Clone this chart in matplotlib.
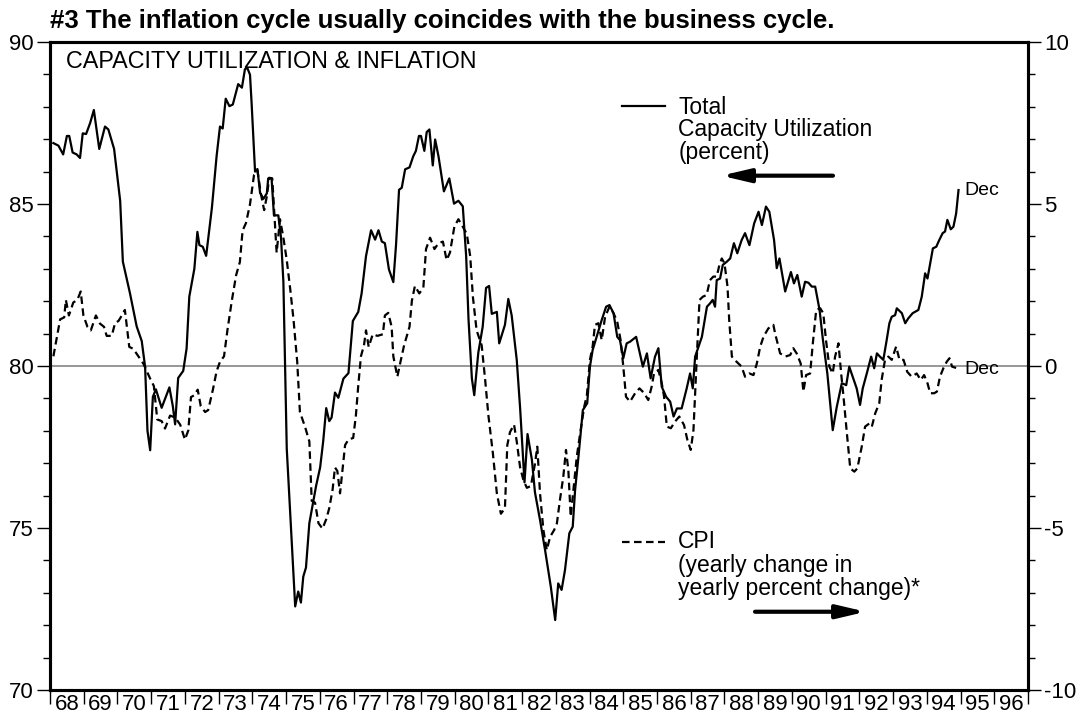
import matplotlib
matplotlib.use('Agg')
import matplotlib.pyplot as plt
from matplotlib.ticker import MultipleLocator, FixedLocator, FixedFormatter

plt.rcParams['font.family'] = ['Liberation Sans', 'DejaVu Sans']
plt.rcParams['axes.unicode_minus'] = False

# Total capacity utilization (percent), left scale
cu_years = [
    1968.10, 1968.25, 1968.39, 1968.50, 1968.57, 1968.67, 1968.79, 1968.89, 1968.97,
    1969.07, 1969.19, 1969.30, 1969.46, 1969.63, 1969.73, 1969.90, 1969.98,
    1970.08, 1970.16, 1970.37, 1970.57, 1970.72, 1970.82, 1970.89, 1970.97,
    1971.05, 1971.14, 1971.31, 1971.54, 1971.64, 1971.71, 1971.80, 1971.95,
    1972.05, 1972.13, 1972.28, 1972.37, 1972.43, 1972.53, 1972.63, 1972.80, 1972.94,
    1973.04, 1973.12, 1973.21, 1973.32, 1973.42, 1973.58, 1973.69, 1973.78, 1973.85, 1973.93, 1973.98,
    1974.08, 1974.15, 1974.23, 1974.33, 1974.43, 1974.47, 1974.57, 1974.64, 1974.77, 1974.85, 1974.92,
    1975.02, 1975.12, 1975.27, 1975.36, 1975.44, 1975.51, 1975.59, 1975.69, 1975.79, 1975.89,
    1976.01, 1976.10, 1976.19, 1976.28, 1976.35, 1976.45, 1976.55, 1976.70, 1976.85, 1976.90, 1976.98,
    1977.14, 1977.24, 1977.37, 1977.52, 1977.64, 1977.74, 1977.84, 1977.93,
    1978.05, 1978.18, 1978.26, 1978.35, 1978.43, 1978.53, 1978.66, 1978.77, 1978.85, 1978.94,
    1979.00, 1979.10, 1979.17, 1979.25, 1979.35, 1979.42, 1979.52, 1979.68, 1979.84, 1979.98,
    1980.11, 1980.24, 1980.34, 1980.41, 1980.51, 1980.58, 1980.70, 1980.83, 1980.93,
    1981.02, 1981.10, 1981.25, 1981.32, 1981.49, 1981.59, 1981.69, 1981.84, 1981.94,
    1982.07, 1982.16, 1982.29, 1982.38, 1982.53, 1982.68, 1982.85, 1982.98,
    1983.07, 1983.17, 1983.27, 1983.40, 1983.50, 1983.57, 1983.67, 1983.80, 1983.93,
    1984.01, 1984.09, 1984.21, 1984.36, 1984.49, 1984.59, 1984.71, 1984.82, 1984.90,
    1985.00, 1985.10, 1985.20, 1985.38, 1985.58, 1985.70, 1985.81, 1985.94,
    1986.04, 1986.14, 1986.27, 1986.39, 1986.49, 1986.59, 1986.73, 1986.88, 1986.98,
    1987.06, 1987.13, 1987.23, 1987.33, 1987.48, 1987.57, 1987.65, 1987.72, 1987.77, 1987.87, 1987.95,
    1988.07, 1988.17, 1988.28, 1988.38, 1988.51, 1988.61, 1988.74, 1988.88,
    1989.01, 1989.11, 1989.23, 1989.33, 1989.47, 1989.55, 1989.63, 1989.80, 1989.97,
    1990.06, 1990.16, 1990.29, 1990.39, 1990.49, 1990.59, 1990.69, 1990.82, 1990.92,
    1991.05, 1991.21, 1991.33, 1991.48, 1991.61, 1991.70, 1991.82, 1991.92,
    1992.02, 1992.10, 1992.22, 1992.35, 1992.44, 1992.52, 1992.61, 1992.71, 1992.81, 1992.89, 1992.96,
    1993.06, 1993.11, 1993.26, 1993.36, 1993.45, 1993.58, 1993.75, 1993.85, 1993.95,
    1994.02, 1994.18, 1994.28, 1994.37, 1994.47, 1994.54, 1994.61, 1994.71, 1994.79, 1994.87, 1994.94,
]
cu_values = [
    86.88, 86.80, 86.53, 87.10, 87.10, 86.59, 86.53, 86.42, 87.18,
    87.16, 87.50, 87.90, 86.70, 87.39, 87.30, 86.70, 86.00,
    85.10, 83.22, 82.25, 81.22, 80.77, 79.97, 78.00, 77.40,
    79.05, 79.28, 78.71, 79.34, 78.77, 78.20, 79.63, 79.85,
    80.54, 82.14, 83.00, 84.14, 83.73, 83.68, 83.40, 84.88, 86.48,
    87.39, 87.33, 88.25, 88.02, 88.07, 88.70, 88.59, 89.16, 89.20, 88.99, 88.07,
    86.00, 86.08, 85.34, 85.16, 85.33, 85.79, 85.79, 84.65, 84.65, 83.96, 82.60,
    77.45, 75.50, 72.58, 73.04, 72.70, 73.50, 73.78, 75.15, 75.73, 76.30,
    76.87, 77.67, 78.70, 78.30, 78.41, 79.18, 79.02, 79.61, 79.78, 80.41, 81.39,
    81.67, 82.24, 83.39, 84.19, 83.90, 84.19, 83.84, 83.79,
    82.98, 82.59, 83.73, 85.44, 85.50, 86.07, 86.13, 86.47, 86.64, 87.10,
    87.10, 86.64, 87.22, 87.30, 86.19, 86.99, 86.47, 85.39, 85.79, 85.01,
    85.10, 84.93, 83.39, 81.44, 79.61, 79.10, 80.41, 81.21, 82.41,
    82.47, 81.61, 81.67, 80.70, 81.27, 82.07, 81.56, 80.19, 78.70,
    76.41, 77.90, 77.10, 76.10, 75.25, 74.32, 73.19, 72.16,
    73.29, 73.09, 73.70, 74.84, 75.04, 76.17, 77.20, 78.64, 78.85,
    79.98, 80.49, 80.90, 81.42, 81.83, 81.88, 81.63, 80.90, 80.80,
    80.24, 80.70, 80.75, 80.90, 79.98, 80.39, 79.62, 80.29,
    80.55, 79.36, 79.05, 78.90, 78.44, 78.69, 78.69, 79.31, 79.77,
    79.31, 80.29, 80.60, 80.90, 81.83, 81.93, 82.04, 81.83, 82.65, 82.70, 83.12,
    83.22, 83.32, 83.79, 83.48, 83.89, 84.10, 83.73, 84.40,
    84.76, 84.35, 84.92, 84.76, 83.89, 83.02, 83.32, 82.30, 82.90,
    82.55, 82.81, 82.14, 82.60, 82.57, 82.45, 82.45, 81.73, 80.80,
    79.77, 78.02, 78.74, 79.47, 79.41, 79.98, 79.62, 79.31,
    78.80, 79.31, 79.77, 80.29, 79.93, 80.39, 80.29, 80.19, 80.80, 81.32, 81.52,
    81.57, 81.78, 81.63, 81.32, 81.47, 81.63, 81.73, 82.14, 82.86,
    82.70, 83.63, 83.68, 83.89, 84.10, 84.15, 84.51, 84.22, 84.30, 84.71, 85.43,
]

# CPI, yearly change in yearly percent change, right scale
cpi_years = [
    1968.10, 1968.18, 1968.30, 1968.42, 1968.47, 1968.56, 1968.69, 1968.81, 1968.91, 1968.99,
    1969.11, 1969.21, 1969.36, 1969.48, 1969.60, 1969.68, 1969.83, 1969.93,
    1970.03, 1970.13, 1970.22, 1970.35, 1970.47, 1970.62, 1970.77, 1970.97,
    1971.08, 1971.18, 1971.31, 1971.41, 1971.56, 1971.71, 1971.86,
    1972.00, 1972.10, 1972.18, 1972.28, 1972.38, 1972.47, 1972.60, 1972.69, 1972.83, 1972.94,
    1973.04, 1973.16, 1973.26, 1973.39, 1973.52, 1973.63, 1973.71, 1973.81, 1973.93,
    1974.05, 1974.15, 1974.25, 1974.35, 1974.43, 1974.50, 1974.59, 1974.67, 1974.72, 1974.82, 1974.92,
    1975.02, 1975.12, 1975.22, 1975.33, 1975.41, 1975.56, 1975.69, 1975.76, 1975.86, 1975.96,
    1976.08, 1976.19, 1976.28, 1976.38, 1976.45, 1976.52, 1976.60, 1976.68, 1976.75, 1976.85, 1976.99,
    1977.07, 1977.14, 1977.22, 1977.31, 1977.37, 1977.45, 1977.57, 1977.71, 1977.87, 1977.93,
    1978.03, 1978.13, 1978.18, 1978.30, 1978.38, 1978.50, 1978.66, 1978.73, 1978.82, 1978.95,
    1979.07, 1979.15, 1979.27, 1979.40, 1979.52, 1979.65, 1979.76, 1979.86, 1979.99,
    1980.11, 1980.24, 1980.36, 1980.46, 1980.54, 1980.65, 1980.80, 1980.90,
    1981.00, 1981.13, 1981.25, 1981.37, 1981.49, 1981.56, 1981.64, 1981.76, 1981.84, 1981.94,
    1982.04, 1982.14, 1982.26, 1982.38, 1982.45, 1982.53, 1982.63, 1982.73, 1982.83, 1982.95,
    1983.03, 1983.12, 1983.22, 1983.30, 1983.37, 1983.44, 1983.52, 1983.62, 1983.72, 1983.84, 1983.92,
    1984.01, 1984.09, 1984.16, 1984.26, 1984.36, 1984.46, 1984.59, 1984.71, 1984.82, 1984.92,
    1985.00, 1985.08, 1985.20, 1985.35, 1985.48, 1985.62, 1985.74, 1985.84, 1985.91,
    1986.04, 1986.14, 1986.21, 1986.29, 1986.41, 1986.53, 1986.66, 1986.80, 1986.90,
    1987.00, 1987.08, 1987.13, 1987.18, 1987.26, 1987.36, 1987.47, 1987.57, 1987.67, 1987.77, 1987.85, 1987.92,
    1988.00, 1988.09, 1988.14, 1988.22, 1988.36, 1988.51, 1988.61, 1988.74, 1988.86, 1988.96,
    1989.06, 1989.16, 1989.30, 1989.45, 1989.50, 1989.65, 1989.80, 1989.95,
    1990.04, 1990.14, 1990.26, 1990.34, 1990.42, 1990.54, 1990.62, 1990.72, 1990.84, 1990.93,
    1991.01, 1991.11, 1991.21, 1991.28, 1991.38, 1991.46, 1991.53, 1991.63, 1991.73, 1991.85, 1991.94,
    1992.07, 1992.17, 1992.30, 1992.37, 1992.47, 1992.59, 1992.66, 1992.76, 1992.86, 1992.96,
    1993.09, 1993.19, 1993.31, 1993.42, 1993.55, 1993.70, 1993.82, 1993.92,
    1994.02, 1994.10, 1994.22, 1994.30, 1994.39, 1994.49, 1994.59, 1994.67, 1994.75, 1994.90,
]
cpi_values = [
    0.30, 0.76, 1.44, 1.50, 2.04, 1.56, 1.96, 2.04, 2.30, 1.56,
    1.21, 1.10, 1.56, 1.31, 1.21, 0.93, 0.93, 1.33,
    1.39, 1.56, 1.73, 0.59, 0.53, 0.30, 0.07, -0.39,
    -0.62, -1.65, -1.70, -1.93, -1.53, -1.59, -1.81,
    -2.27, -1.99, -0.96, -0.90, -0.73, -1.24, -1.42, -1.36, -0.73, -0.16,
    0.13, 0.30, 1.10, 2.01, 2.81, 3.21, 4.18, 4.41, 4.99,
    5.90, 6.04, 5.33, 4.81, 5.24, 5.81, 5.79, 4.41, 3.50, 4.53, 3.96,
    3.27, 2.40, 1.44, 0.13, -1.42, -1.87, -2.33, -4.16, -4.22, -4.85,
    -5.02, -4.73, -4.39, -3.81, -3.13, -3.24, -3.93, -3.13, -2.44, -2.27, -2.22,
    -1.53, -0.61, 0.30, 0.64, 1.10, 0.59, 0.98, 0.93, 0.98, 1.56,
    1.64, 1.21, 0.30, -0.33, 0.07, 0.64, 1.21, 2.01, 2.47, 2.24,
    2.41, 3.61, 3.96, 3.61, 3.79, 3.84, 3.27, 3.50, 4.30,
    4.53, 4.30, 4.07, 3.39, 2.13, 1.10, 0.64, -0.39,
    -1.53, -2.67, -3.93, -4.56, -4.39, -2.44, -2.04, -1.81, -2.33, -3.13,
    -3.53, -3.76, -3.70, -3.02, -2.49, -3.93, -5.06, -5.68, -5.27, -5.06,
    -4.86, -4.14, -3.42, -2.59, -3.21, -4.65, -3.83, -2.80, -2.08, -1.26, -0.90,
    0.19, 0.60, 1.27, 1.32, 0.80, 1.52, 1.83, 1.63, 1.37, 0.80,
    -0.02, -0.95, -1.10, -0.84, -0.69, -0.84, -1.05, -0.64, -0.23,
    -0.12, -0.53, -0.95, -1.87, -1.92, -1.72, -1.56, -1.82, -2.28,
    -2.59, -1.98, -0.84, 0.29, 2.04, 2.14, 2.19, 2.65, 2.76, 2.76, 3.12, 3.32,
    3.17, 2.45, 1.42, 0.29, 0.13, -0.02, -0.33, -0.23, -0.28, 0.08,
    0.60, 0.91, 1.16, 1.27, 1.01, 0.39, 0.29, 0.34,
    0.55, 0.39, 0.08, -0.79, -0.28, -0.23, 0.70, 1.73, 1.78, 1.63,
    0.80, -0.02, -0.23, 0.29, 0.70, -0.23, -0.95, -2.08, -3.16, -3.26, -3.16,
    -2.49, -1.87, -1.77, -1.87, -1.46, -1.15, -0.43, 0.19, 0.29, 0.19,
    0.60, 0.19, 0.19, -0.18, -0.33, -0.23, -0.43, -0.28,
    -0.53, -0.84, -0.84, -0.79, -0.33, -0.07, 0.13, 0.24, -0.02, -0.07,
]

years = list(range(1968, 1997))
year_labels = [str(y)[2:] for y in years]

fig = plt.figure(figsize=(10.78, 7.19), dpi=100)
ax = fig.add_axes([0.0464, 0.0403, 0.9072, 0.9013])
ax2 = ax.twinx()

ax.axhline(80, color='#7a7a7a', lw=1.1, zorder=1)
ax.plot(cu_years, cu_values, color='black', lw=1.6, zorder=3)
ax2.plot(cpi_years, cpi_values, color='black', lw=1.6, dashes=(3.4, 2.0), zorder=3)

ax.set_xlim(1968, 1997)
ax.set_ylim(70, 90)
ax2.set_ylim(-10, 10)

# year boundaries as ticks, labels centred in each year
ax.xaxis.set_major_locator(FixedLocator(list(range(1968, 1998))))
ax.xaxis.set_minor_locator(FixedLocator([y + 0.5 for y in years]))
ax.xaxis.set_minor_formatter(FixedFormatter(year_labels))
ax.tick_params(axis='x', which='major', direction='out', length=10, width=1, labelbottom=False)
ax.tick_params(axis='x', which='minor', length=0, pad=3, labelsize=16)

for a in (ax, ax2):
    a.yaxis.set_major_locator(MultipleLocator(5))
    a.yaxis.set_minor_locator(MultipleLocator(1))
    a.tick_params(axis='y', which='major', direction='out', length=9.5, width=1, pad=2, labelsize=16)
    a.tick_params(axis='y', which='minor', direction='out', length=5, width=1)
    for s in a.spines.values():
        s.set_linewidth(2.2)

ax.text(0.0164, 0.987, 'CAPACITY UTILIZATION & INFLATION', transform=ax.transAxes,
        fontsize=16.8, ha='left', va='top')

# legend for the solid line
ax.plot([0.5846, 0.6288], [0.9012, 0.9012], transform=ax.transAxes, color='black', lw=1.6)
ax.text(0.6424, 0.9173, 'Total\nCapacity Utilization\n(percent)', transform=ax.transAxes,
        fontsize=16.5, ha='left', va='top', linespacing=0.98)
ax.annotate('', xy=(0.6863, 0.7937), xytext=(0.8006, 0.7937), xycoords='axes fraction',
            arrowprops=dict(arrowstyle='-|>,head_length=1.7,head_width=0.4', lw=3,
                            color='black', shrinkA=0, shrinkB=0))

# legend for the dashed line
ax.plot([0.5846, 0.6288], [0.2289, 0.2289], transform=ax.transAxes, color='black', lw=1.6,
        dashes=(3.4, 2.0))
ax.text(0.6424, 0.2469, 'CPI\n(yearly change in\nyearly percent change)*', transform=ax.transAxes,
        fontsize=16.5, ha='left', va='top', linespacing=1.03)
ax.annotate('', xy=(0.8342, 0.1208), xytext=(0.7209, 0.1208), xycoords='axes fraction',
            arrowprops=dict(arrowstyle='-|>,head_length=1.7,head_width=0.4', lw=3,
                            color='black', shrinkA=0, shrinkB=0))

ax.text(1995.1, 85.42, 'Dec', fontsize=14, ha='left', va='center')
ax.text(1995.1, 79.88, 'Dec', fontsize=14, ha='left', va='center')

fig.text(0.0464, 0.988, '#3 The inflation cycle usually coincides with the business cycle.',
         fontsize=18.5, fontweight='bold', ha='left', va='top')

fig.savefig('out.png', dpi=100)
